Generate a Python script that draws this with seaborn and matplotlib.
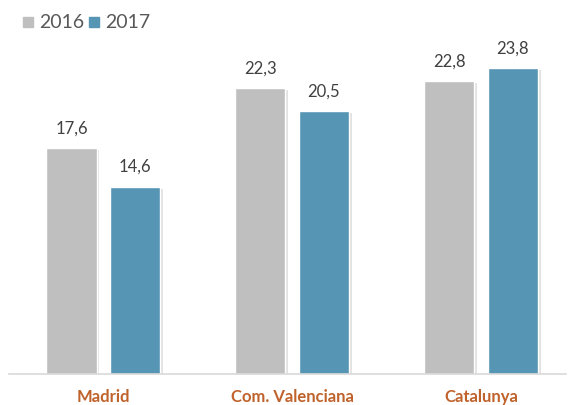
import matplotlib
matplotlib.use("Agg")
import matplotlib.pyplot as plt
import matplotlib.patheffects as pe
from matplotlib.patches import Rectangle
import pandas as pd
import seaborn as sns

REGIONS = ["Madrid", "Com. Valenciana", "Catalunya"]
YEARS = ["2016", "2017"]
VALUES_2016 = [17.6, 22.3, 22.8]
VALUES_2017 = [14.6, 20.5, 23.8]
COLORS = {"2016": "#BFBFBF", "2017": "#5795B4"}

df = pd.DataFrame({
    "region": REGIONS * 2,
    "year": [YEARS[0]] * 3 + [YEARS[1]] * 3,
    "value": VALUES_2016 + VALUES_2017,
})

sns.set_style("white")
plt.rcParams["font.family"] = ["Lato", "DejaVu Sans"]

W, H = 568, 406
fig = plt.figure(figsize=(W / 100, H / 100), dpi=100)
ax = fig.add_axes([9 / W, (H - 375) / H, 557 / W, 335 / H])

sns.barplot(
    data=df, x="region", y="value", hue="year", order=REGIONS, hue_order=YEARS,
    palette=COLORS, width=0.674, gap=0.21, saturation=1, ax=ax, legend=False,
)

for bar in ax.patches:
    bar.set_path_effects([
        pe.SimplePatchShadow(offset=(2, -1.5), shadow_rgbFace="#8c8c8c", alpha=0.25),
        pe.Normal(),
    ])

for container in ax.containers:
    ax.bar_label(
        container, labels=[f"{v:.1f}".replace(".", ",") for v in container.datavalues],
        padding=9, fontsize=12, color="#404040",
    )

ax.set_xlim(-0.5, -0.5 + 557 / 188.75)
ax.set_ylim(0, 335 / 12.84)
ax.set_xlabel("")
ax.set_ylabel("")
ax.set_yticks([])
ax.tick_params(axis="x", length=0, pad=10)
for lbl in ax.get_xticklabels():
    lbl.set_fontweight("bold")
    lbl.set_color("#C0622B")
    lbl.set_fontsize(12)
for side in ["top", "right", "left"]:
    ax.spines[side].set_visible(False)
ax.spines["bottom"].set_color("#D9D9D9")
ax.spines["bottom"].set_linewidth(1.2)

# legend
for x0, year in [(23, "2016"), (89, "2017")]:
    fig.patches.append(Rectangle((x0 / W, 1 - 28 / H), 10 / W, 10 / H,
                                 transform=fig.transFigure, color=COLORS[year]))
    fig.text((x0 + 16) / W, 1 - 23 / H, year, color="#595959", fontsize=14,
             va="center", ha="left")

fig.savefig("out.png", dpi=100)
